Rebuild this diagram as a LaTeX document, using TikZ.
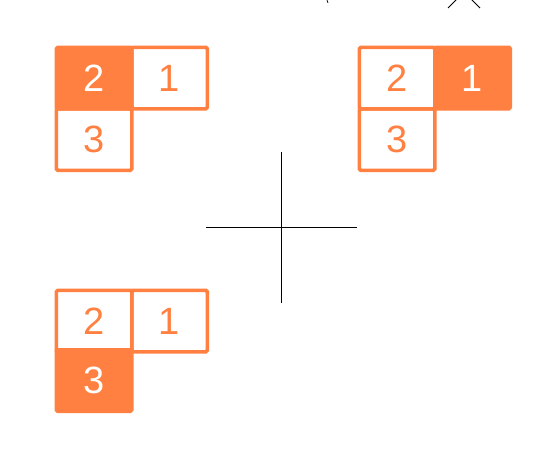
\documentclass[tikz,border=0pt]{standalone}
\usepackage{fontspec}
\setmainfont{Liberation Sans}
\definecolor{org}{RGB}{255,128,64}
\begin{document}
\begin{tikzpicture}[x=1pt,y=-1pt,
  cellbox/.style={draw=org,line width=3.6pt,rounded corners=1.5pt,minimum width=75.5pt,minimum height=61.5pt,inner sep=0pt,text=org,font=\fontsize{38}{38}\selectfont,anchor=north west},
  cellon/.style={cellbox,fill=org,text=white},
  axis/.style={draw=black,line width=0.9pt}]
\useasboundingbox (0,0) rectangle (559,451);
% top-left group
\node[cellon] (a2) at (54.5,45.5) {2};
\node[cellbox] (a1) at (130,45.5) {1};
\node[cellbox] (a3) at (54.5,107) {3};
% top-right group
\node[cellbox] (b2) at (357.5,45.5) {2};
\node[cellon] (b1) at (433,45.5) {1};
\node[cellbox] (b3) at (357.5,107) {3};
% bottom-left group
\node[cellbox] (c2) at (54.5,288.5) {2};
\node[cellbox] (c1) at (130,288.5) {1};
\node[cellon] (c3) at (54.5,348) {3};
% cross
\coordinate (hl) at (206,227.5);
\coordinate (hr) at (357,227.5);
\coordinate (vt) at (281.5,152);
\coordinate (vb) at (281.5,302.5);
\draw[axis] (hl) -- (hr);
\draw[axis] (vt) -- (vb);
% partial marks at top edge
\coordinate (x1) at (448,8);
\coordinate (x2) at (457,-1);
\coordinate (x3) at (471,-1);
\coordinate (x4) at (480,8);
\draw[axis] (x1) -- (x2);
\draw[axis] (x3) -- (x4);
\coordinate (p1) at (327,0);
\coordinate (p2) at (328,3);
\draw[axis,line width=0.7pt] (p1) -- (p2);
\end{tikzpicture}
\end{document}
